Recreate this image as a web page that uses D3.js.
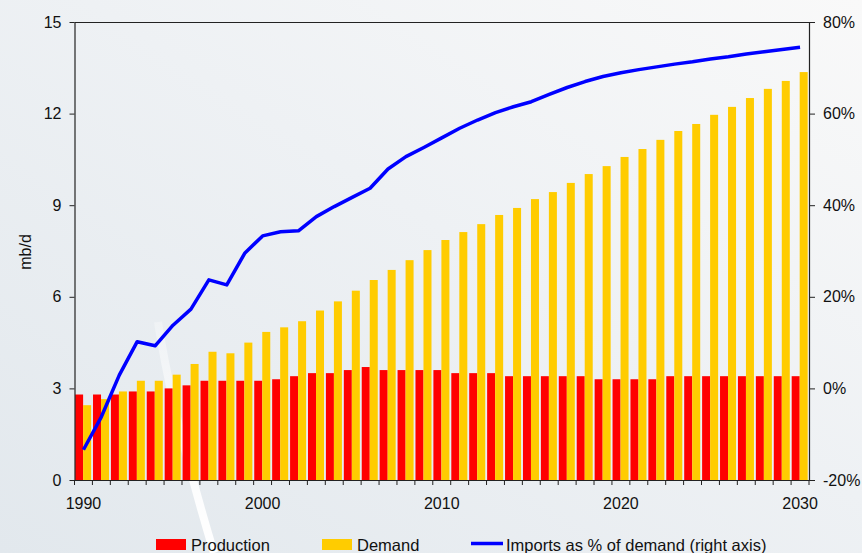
<!DOCTYPE html>
<html>
<head>
<meta charset="utf-8">
<script src="https://cdn.jsdelivr.net/npm/d3@7"></script>
<style>
  body { margin: 0; }
  svg { display: block; font-family: "Liberation Sans", Arial, sans-serif; }
</style>
</head>
<body>
<svg id="chart" width="862" height="553"></svg>
<script>
// data
const years = d3.range(1990, 2031);
const production = [2.8, 2.8, 2.8, 2.9, 2.9, 3.0, 3.1, 3.25, 3.25, 3.25, 3.25, 3.3, 3.4, 3.5, 3.5, 3.6, 3.7,
    3.6, 3.6, 3.6, 3.6, 3.5, 3.5, 3.5, 3.4, 3.4, 3.4, 3.4, 3.4, 3.3, 3.3, 3.3, 3.3, 3.4, 3.4, 3.4, 3.4, 3.4,
    3.4, 3.4, 3.4];
const demand = [2.45, 2.65, 2.9, 3.25, 3.25, 3.45, 3.8, 4.2, 4.15, 4.5, 4.85, 5.0, 5.2, 5.55, 5.85, 6.2, 6.55,
    6.88, 7.2, 7.53, 7.86, 8.12, 8.38, 8.68, 8.91, 9.2, 9.43, 9.73, 10.02, 10.28, 10.58, 10.84, 11.14, 11.43,
    11.66, 11.96, 12.22, 12.51, 12.81, 13.07, 13.36];
const importsPct = [-13.4, -6.2, 2.9, 10.2, 9.3, 13.8, 17.3, 23.7, 22.6, 29.5, 33.3, 34.2, 34.4, 37.5, 39.7,
    41.7, 43.7, 47.9, 50.6, 52.6, 54.7, 56.8, 58.6, 60.2, 61.5, 62.6, 64.2, 65.7, 67.0, 68.1, 68.9, 69.6, 70.2,
    70.8, 71.3, 71.9, 72.4, 73.0, 73.5, 74.0, 74.5];
const xLabels = [1990, 2000, 2010, 2020, 2030];
const leftTicks = [0, 3, 6, 9, 12, 15];
const rightTicks = [-20, 0, 20, 40, 60, 80];

// 颜色
const colors = {
    production: "#FF0000",
    demand: "#FFCC00",
    imports: "#0000FF"
};

const W = 862, H = 553;
const margin = { top: 22, right: 53, bottom: 73, left: 74.5 };
const width = W - margin.left - margin.right;
const height = H - margin.top - margin.bottom;

const svg = d3.select("#chart");

// background
const defs = svg.append("defs");
const bg = defs.append("linearGradient").attr("id", "bg")
    .attr("x1", "0").attr("y1", "1").attr("x2", "1").attr("y2", "0");
bg.append("stop").attr("offset", "0%").attr("stop-color", "#e2e8ed");
bg.append("stop").attr("offset", "55%").attr("stop-color", "#eef1f4");
bg.append("stop").attr("offset", "100%").attr("stop-color", "#f9f9f9");
svg.append("rect").attr("width", W).attr("height", H).attr("fill", "url(#bg)");

const swoosh = defs.append("linearGradient").attr("id", "swoosh")
    .attr("x1", "0").attr("y1", "0").attr("x2", "0").attr("y2", "1");
swoosh.append("stop").attr("offset", "0%").attr("stop-color", "#fff").attr("stop-opacity", 0.3);
swoosh.append("stop").attr("offset", "60%").attr("stop-color", "#fff").attr("stop-opacity", 0.85);
swoosh.append("stop").attr("offset", "100%").attr("stop-color", "#fff").attr("stop-opacity", 1);
svg.append("path")
    .attr("d", "M158,322 C170,400 192,480 214,553")
    .attr("fill", "none")
    .attr("stroke", "url(#swoosh)")
    .attr("stroke-width", 8);

const g = svg.append("g")
    .attr("transform", `translate(${margin.left},${margin.top})`);

// scales
const x = d3.scaleBand().domain(years).range([0, width]).padding(0);
const xSub = d3.scaleBand().domain(["production", "demand"])
    .range([0.6, x.bandwidth() - 1.3]).padding(0);
const y = d3.scaleLinear().domain([0, 15]).range([height, 0]);
const y2 = d3.scaleLinear().domain([-20, 80]).range([height, 0]);

// bars
const rows = years.map((yr, i) => ({ year: yr, production: production[i], demand: demand[i] }));
g.append("g")
    .selectAll("g")
    .data(rows)
    .enter().append("g")
    .attr("transform", d => `translate(${x(d.year)},0)`)
    .selectAll("rect")
    .data(d => ["production", "demand"].map(key => ({ key: key, value: d[key] })))
    .enter().append("rect")
    .attr("x", d => xSub(d.key))
    .attr("y", d => y(d.value))
    .attr("width", xSub.bandwidth())
    .attr("height", d => height - y(d.value))
    .attr("fill", d => colors[d.key]);

// imports line (right axis)
const line = d3.line()
    .x((d, i) => x(years[i]) + x.bandwidth() / 2)
    .y(d => y2(d));
g.append("path")
    .datum(importsPct)
    .attr("fill", "none")
    .attr("stroke", colors.imports)
    .attr("stroke-width", 3.5)
    .attr("stroke-linejoin", "round")
    .attr("d", line);

// frame top
g.append("line")
    .attr("x1", 0).attr("x2", width).attr("y1", 0.5).attr("y2", 0.5)
    .attr("stroke", "#222").attr("stroke-width", 1.2);

// left axis
const yAxis = g.append("g")
    .call(d3.axisLeft(y).tickValues(leftTicks).tickSize(5).tickPadding(8).tickSizeOuter(0));
// right axis
const y2Axis = g.append("g")
    .attr("transform", `translate(${width},0)`)
    .call(d3.axisRight(y2).tickValues(rightTicks).tickSize(6).tickPadding(8).tickSizeOuter(0)
        .tickFormat(d => d + "%"));
// bottom axis: labels at decades, ticks at every band boundary
const xAxis = g.append("g")
    .attr("transform", `translate(0,${height})`)
    .call(d3.axisBottom(x).tickValues(xLabels).tickSize(0).tickPadding(18).tickSizeOuter(0));
xAxis.append("g")
    .selectAll("line")
    .data(years.concat([2031]))
    .enter().append("line")
    .attr("x1", d => d === 2031 ? width : x(d))
    .attr("x2", d => d === 2031 ? width : x(d))
    .attr("y1", 0).attr("y2", 5)
    .attr("stroke", "#222");

[yAxis, y2Axis, xAxis].forEach(ax => {
    ax.select(".domain").attr("stroke", "#222").attr("stroke-width", 1.2);
    ax.selectAll(".tick line").attr("stroke", "#222");
    ax.selectAll("text").attr("font-size", 16).attr("fill", "#111")
        .attr("font-family", "'Liberation Sans', Arial, sans-serif");
});

// y label
svg.append("text")
    .attr("transform", `translate(31,252) rotate(-90)`)
    .attr("text-anchor", "middle")
    .attr("font-size", 16)
    .attr("fill", "#111")
    .text("mb/d");

// legend
const legend = svg.append("g").attr("font-size", 16.5).attr("fill", "#111");
legend.append("rect").attr("x", 156).attr("y", 539).attr("width", 30).attr("height", 11)
    .attr("fill", colors.production);
legend.append("text").attr("x", 191).attr("y", 550.5).text("Production");
legend.append("rect").attr("x", 322).attr("y", 539).attr("width", 30).attr("height", 11)
    .attr("fill", colors.demand);
legend.append("text").attr("x", 357).attr("y", 550.5).text("Demand");
legend.append("line").attr("x1", 471).attr("x2", 503).attr("y1", 543.5).attr("y2", 543.5)
    .attr("stroke", colors.imports).attr("stroke-width", 3.5);
legend.append("text").attr("x", 506).attr("y", 550.5).text("Imports as % of demand (right axis)");
</script>
</body>
</html>
